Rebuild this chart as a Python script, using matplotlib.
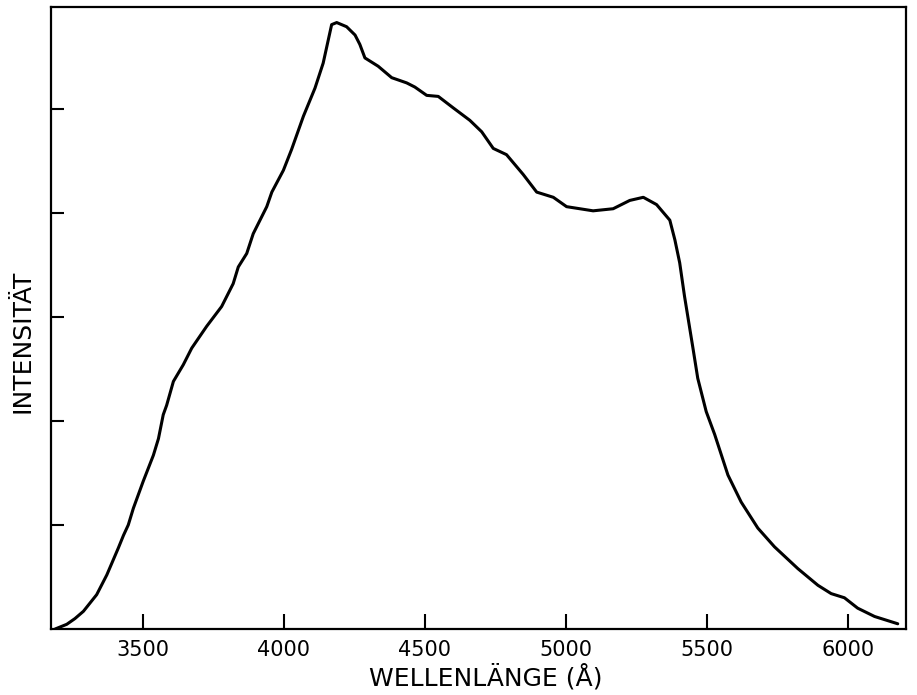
import matplotlib.pyplot as plt

# emission spectrum, wavelength in Angstrom vs relative intensity
wavelength = [3190, 3231, 3260, 3290, 3337, 3373, 3414, 3432, 3449, 3467,
              3502, 3538, 3556, 3573, 3585, 3609, 3644, 3674, 3727, 3780,
              3821, 3839, 3869, 3892, 3940, 3958, 3999, 4028, 4070, 4111,
              4140, 4170, 4188, 4223, 4253, 4270, 4288, 4335, 4383, 4436,
              4465, 4507, 4548, 4601, 4660, 4702, 4743, 4790, 4849, 4897,
              4956, 5003, 5050, 5097, 5168, 5227, 5275, 5322, 5369, 5387,
              5404, 5421, 5451, 5468, 5498, 5528, 5575, 5622, 5681, 5740,
              5823, 5894, 5941, 5988, 6035, 6095, 6177]
intensity = [0.00, 0.045, 0.10, 0.17, 0.33, 0.52, 0.78, 0.90, 1.00, 1.16,
             1.42, 1.67, 1.83, 2.06, 2.15, 2.38, 2.54, 2.70, 2.91, 3.10,
             3.32, 3.48, 3.61, 3.80, 4.06, 4.20, 4.41, 4.61, 4.93, 5.20,
             5.44, 5.81, 5.83, 5.79, 5.71, 5.62, 5.49, 5.41, 5.30, 5.25,
             5.21, 5.13, 5.12, 5.01, 4.89, 4.78, 4.62, 4.56, 4.37, 4.20,
             4.15, 4.06, 4.04, 4.02, 4.04, 4.12, 4.15, 4.08, 3.93, 3.74,
             3.52, 3.20, 2.70, 2.41, 2.09, 1.87, 1.48, 1.22, 0.97, 0.79,
             0.58, 0.42, 0.34, 0.30, 0.20, 0.12, 0.05]

x_ticks = [3500, 4000, 4500, 5000, 5500, 6000]
long_ticks = [4000, 5000, 6000]
y_ticks = [1, 2, 3, 4, 5]

fig = plt.figure(figsize=(9.17, 6.95), dpi=100)
ax = fig.add_axes([0.0556, 0.095, 0.932, 0.895])

ax.plot(wavelength, intensity, color='black', linewidth=2.2,
        solid_capstyle='round', solid_joinstyle='round')

ax.set_xlim(3175, 6205)
ax.set_ylim(0, 5.98)

for side in ax.spines.values():
    side.set_linewidth(1.6)

ax.set_xticks(x_ticks)
ax.set_xticklabels([str(t) for t in x_ticks], fontsize=15)
ax.set_xticks(long_ticks, minor=True)
ax.set_yticks(y_ticks)
ax.set_yticklabels([])
ax.tick_params(axis='x', which='major', direction='in', length=11,
               width=1.5, pad=8)
ax.tick_params(axis='x', which='minor', direction='in', length=19,
               width=1.5)
ax.tick_params(axis='y', which='major', direction='in', length=9.5,
               width=1.5)

ax.set_xlabel('WELLENLÄNGE (Å)', fontsize=18)
ax.set_ylabel('INTENSITÄT', fontsize=18)
ax.xaxis.set_label_coords(0.509, -0.056)
ax.yaxis.set_label_coords(-0.019, 0.463)

plt.savefig('out.png', dpi=100)
